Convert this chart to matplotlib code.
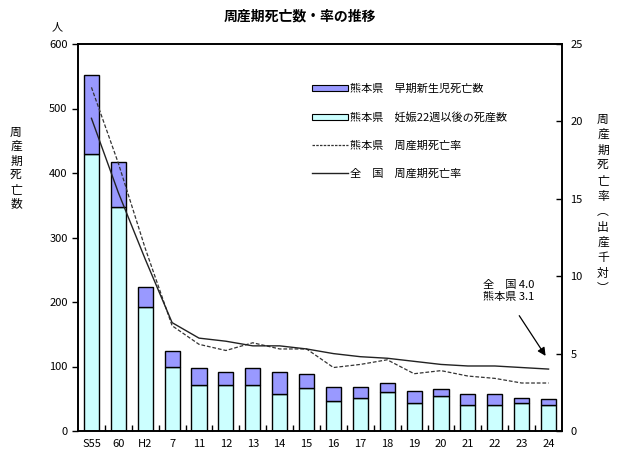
import matplotlib
matplotlib.use('Agg')
import matplotlib.pyplot as plt
import matplotlib.patches as patches
from matplotlib.lines import Line2D
import numpy as np

plt.rcParams['font.family'] = ['Noto Sans CJK JP', 'DejaVu Sans']
plt.rcParams['font.size'] = 8

# データ
years = ['S55', '60', 'H2', '7', '11', '12', '13', '14', '15', '16',
         '17', '18', '19', '20', '21', '22', '23', '24']
stillbirth = [429, 347, 192, 99, 72, 71, 71, 57, 66, 46,
              51, 61, 44, 54, 40, 41, 43, 40]          # 妊娠22週以後の死産数
early_neo = [123, 70, 31, 25, 25, 20, 26, 34, 22, 22,
             17, 13, 18, 11, 17, 16, 8, 10]             # 早期新生児死亡数
rate_kuma = [22.2, 17.3, 11.8, 6.8, 5.6, 5.2, 5.7, 5.3, 5.3, 4.1,
             4.3, 4.6, 3.7, 3.9, 3.55, 3.4, 3.1, 3.1]   # 熊本県 周産期死亡率
rate_nat = [20.2, 15.4, 11.1, 7.0, 6.0, 5.8, 5.5, 5.5, 5.3, 5.0,
            4.8, 4.7, 4.5, 4.3, 4.2, 4.2, 4.1, 4.0]      # 全国 周産期死亡率

x = np.arange(len(years))

fig = plt.figure(figsize=(6.24, 4.55), dpi=100)
ax = fig.add_axes([78/624, 1-431/455, 484/624, 387/455])
ax2 = ax.twinx()

ax.bar(x, stillbirth, width=0.56, color='#CCFFFF', edgecolor='black', linewidth=1.0, zorder=2)
ax.bar(x, early_neo, width=0.56, bottom=stillbirth, color='#9999FF', edgecolor='black', linewidth=1.0, zorder=2)

ax2.plot(x, rate_kuma, color='#333333', linestyle=(0, (3, 1.5)), linewidth=0.9)
ax2.plot(x, rate_nat, color='#222222', linestyle='-', linewidth=1.0)

ax.set_xlim(-0.5, len(years) - 0.5)
ax.set_ylim(0, 600)
ax2.set_ylim(0, 25)
ax.set_yticks(np.arange(0, 601, 100))
ax2.set_yticks(np.arange(0, 26, 5))

ax.set_xticks(x)
ax.set_xticklabels(years)
ax.tick_params(axis='x', length=0, pad=6)
ax.set_xticks(np.arange(0.5, len(years) - 1, 1), minor=True)
ax.tick_params(axis='x', which='minor', direction='in', length=4, width=1)
ax.tick_params(axis='y', direction='out', length=4, width=1)
ax2.tick_params(axis='y', direction='in', length=4, width=1, pad=6)
for a in (ax, ax2):
    for s in a.spines.values():
        s.set_linewidth(1.2)

# タイトル・軸ラベル
fig.text(300/624, 1-17/455, '周産期死亡数・率の推移', ha='center', va='center',
         fontsize=10, fontweight='bold')
fig.text(57/624, 1-27/455, '人', ha='center', va='center', fontsize=8)
fig.text(16/624, 1-168/455, '\n'.join('周産期死亡数'), ha='center', va='center',
         fontsize=8.5, linespacing=1.12)
fig.text(603/624, 1-204/455, '\n'.join('周産期死亡率︵出産千対︶'), ha='center', va='center',
         fontsize=8.5, linespacing=1.24)

# 凡例
handles = [
    patches.Patch(facecolor='#9999FF', edgecolor='black', linewidth=0.8),
    patches.Patch(facecolor='#CCFFFF', edgecolor='black', linewidth=0.8),
    Line2D([], [], color='#333333', linestyle=(0, (2, 1)), linewidth=0.9),
    Line2D([], [], color='#222222', linewidth=1.0),
]
labels = ['熊本県　早期新生児死亡数', '熊本県　妊娠22週以後の死産数',
          '熊本県　周産期死亡率', '全　国　周産期死亡率']
fig.legend(handles, labels, loc='upper left', bbox_to_anchor=(312/624, 1-84/455),
           frameon=False, fontsize=8, handlelength=3.2, handleheight=0.45,
           handletextpad=0.2, labelspacing=1.6, borderpad=0, borderaxespad=0)

# 注記
ax2.text(14.55, 9.75, '全　国 4.0\n熊本県 3.1', ha='left', va='top', fontsize=8, linespacing=1.25)
ax2.annotate('', xy=(16.89, 4.85), xytext=(15.91, 7.45),
             arrowprops=dict(arrowstyle='-|>', color='black', lw=0.9, mutation_scale=12,
                             shrinkA=0, shrinkB=0))

fig.savefig('out.png', dpi=100)
